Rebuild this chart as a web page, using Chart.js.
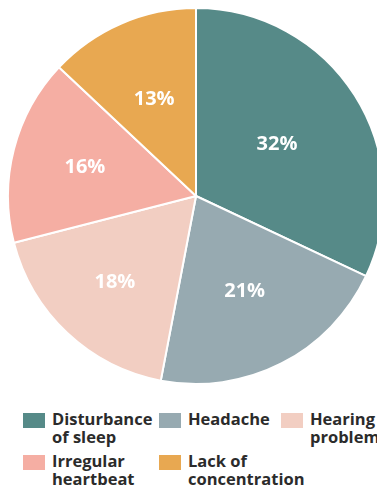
<!DOCTYPE html>
<html>
<head>
<meta charset="utf-8">
<script src="https://cdn.jsdelivr.net/npm/chart.js@4"></script>
<style>
  html, body { margin: 0; padding: 0; background: #fff; }
  body { width: 377px; height: 489px; overflow: hidden; position: relative; }
  #pie { position: absolute; left: 7px; top: 7px; }
  .item { position: absolute; }
  .item .box { position: absolute; left: 0; top: 0; width: 22px; height: 15px; }
  .item .txt {
    position: absolute; left: 29px; top: -3px; white-space: nowrap;
    font-family: "Open Sans", sans-serif; font-weight: 700; font-size: 16.5px;
    line-height: 18px; color: #2b2b2b;
  }
</style>
</head>
<body>
<canvas id="pie" width="378" height="378"></canvas>
<div id="legend"></div>
<script>
const categories = ['Disturbance of sleep', 'Headache', 'Hearing problem', 'Irregular heartbeat', 'Lack of concentration'];
const legendLines = [['Disturbance', 'of sleep'], ['Headache'], ['Hearing', 'problem'], ['Irregular', 'heartbeat'], ['Lack of', 'concentration']];
const shares = [32, 21, 18, 16, 13];
const colors = ['#568a88', '#97aab1', '#f2cec2', '#f5aea3', '#e8a851'];

// how far out (fraction of the radius) each percentage sits
const labelRadius = [0.51, 0.57, 0.63, 0.61, 0.56];

const pctLabels = {
  id: 'pctLabels',
  afterDatasetsDraw(chart) {
    const ctx = chart.ctx;
    const arcs = chart.getDatasetMeta(0).data;
    ctx.save();
    ctx.fillStyle = '#ffffff';
    ctx.font = '700 20px "Open Sans", sans-serif';
    ctx.textAlign = 'center';
    ctx.textBaseline = 'middle';
    arcs.forEach((arc, i) => {
      const mid = (arc.startAngle + arc.endAngle) / 2;
      const r = arc.outerRadius * labelRadius[i];
      ctx.fillText(shares[i] + '%', arc.x + Math.cos(mid) * r, arc.y + Math.sin(mid) * r);
    });
    ctx.restore();
  }
};

new Chart(document.getElementById('pie'), {
  type: 'pie',
  data: {
    labels: categories,
    datasets: [{
      data: shares,
      backgroundColor: colors,
      borderColor: '#ffffff',
      borderWidth: 2,
      hoverOffset: 0
    }]
  },
  options: {
    responsive: false,
    animation: false,
    plugins: {
      legend: { display: false },
      tooltip: { enabled: false }
    }
  },
  plugins: [pctLabels]
});

// legend below the pie, three columns
const colX = [23, 159, 281];
const rowY = [413, 455];
const legend = document.getElementById('legend');
categories.forEach((name, i) => {
  const el = document.createElement('div');
  el.className = 'item';
  el.style.left = colX[i % 3] + 'px';
  el.style.top = rowY[Math.floor(i / 3)] + 'px';
  el.innerHTML = '<div class="box" style="background:' + colors[i] + '"></div>' +
    '<div class="txt">' + legendLines[i].join('<br>') + '</div>';
  legend.appendChild(el);
});
</script>
</body>
</html>
